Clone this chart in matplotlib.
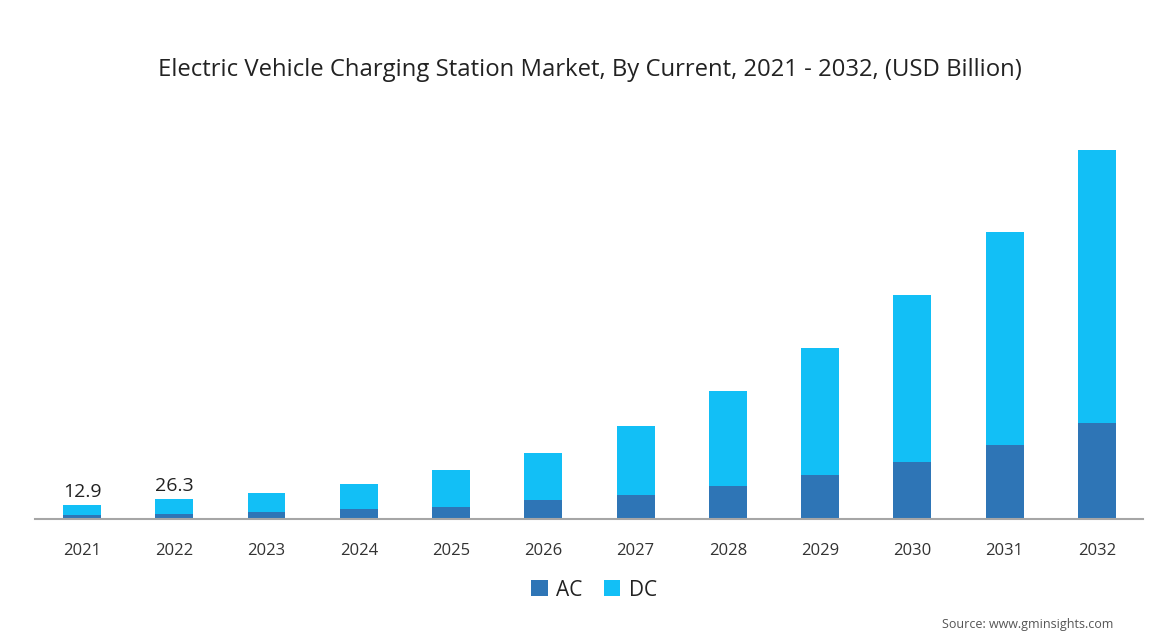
import matplotlib
matplotlib.use('Agg')
import numpy as np
import matplotlib.pyplot as plt

years = ['2021', '2022', '2023', '2024', '2025', '2026',
         '2027', '2028', '2029', '2030', '2031', '2032']
ac = [3.6, 5.3, 6.6, 9.6, 12.3, 18.6, 24.0, 33.0, 43.7, 57.3, 74.0, 96.3]
total = [14.0, 19.6, 26.0, 35.0, 48.6, 66.3, 93.3, 127.7, 171.0, 223.7, 286.7, 369.0]
dc = [t - a for t, a in zip(total, ac)]
bar_labels = {0: '12.9', 1: '26.3'}

AC_COLOR = '#2E75B6'
DC_COLOR = '#12BFF6'

plt.rcParams['font.family'] = ['Open Sans', 'DejaVu Sans']

fig = plt.figure(figsize=(11.61, 6.32), dpi=100)
ax = fig.add_axes([35 / 1161, 1 - 519 / 632, (1143 - 35) / 1161, 379 / 632])

x = np.arange(len(years))
w = 0.41
ax.bar(x, ac, w, color=AC_COLOR, label='AC')
ax.bar(x, dc, w, bottom=ac, color=DC_COLOR, label='DC')

for i, txt in bar_labels.items():
    ax.text(x[i], total[i] + 4, txt, ha='center', va='bottom',
            fontsize=14, color='#222222')

ax.set_xlim(-0.51, 11.5)
ax.set_ylim(0, 379)
ax.set_xticks(x)
ax.set_xticklabels(years, fontsize=12, color='#333333')
ax.tick_params(axis='x', length=0, pad=17)
ax.set_yticks([])
for s in ['top', 'right', 'left']:
    ax.spines[s].set_visible(False)
ax.spines['bottom'].set_color('#A6A6A6')
ax.spines['bottom'].set_linewidth(1.5)

fig.text(0.508, 1 - 70 / 632, 'Electric Vehicle Charging Station Market, By Current, 2021 - 2032, (USD Billion)',
         ha='center', va='center', fontsize=17.2, color='#222222')

fig.legend(loc='center', bbox_to_anchor=(594 / 1161, 1 - 590 / 632), ncol=2, frameon=False,
           fontsize=15, handlelength=0.8, handleheight=0.8, handletextpad=0.4,
           columnspacing=1.0, labelcolor='#222222')

fig.text(942 / 1161, 1 / 632, 'Source: www.gminsights.com', ha='left', va='bottom',
         fontsize=9, color='#555555')

fig.savefig('out.png', dpi=100)
